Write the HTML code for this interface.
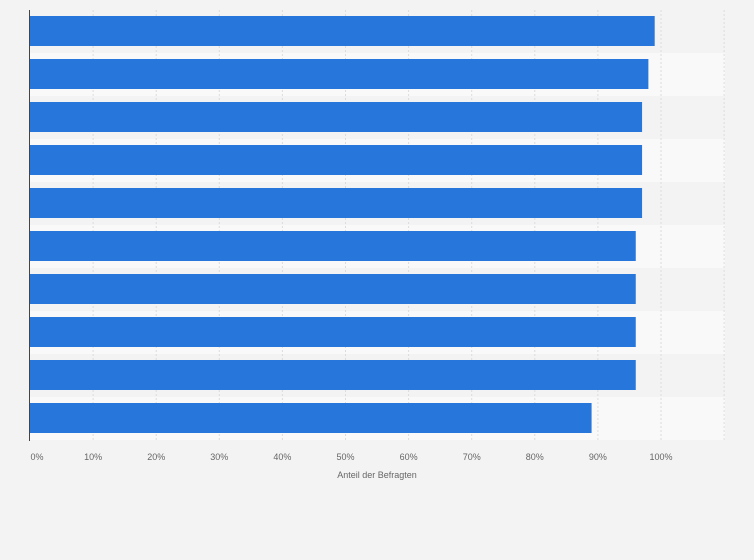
<!DOCTYPE html>
<html><head><meta charset="utf-8"><style>
body{margin:0;background:#f3f3f3;font-family:"Liberation Sans",sans-serif;}
svg{display:block}
</style></head><body>
<svg id="chart" width="754" height="560"></svg>
<script>
const categories=["c1","c2","c3","c4","c5","c6","c7","c8","c9","c10"];
const values=[99,98,97,97,97,96,96,96,96,89];
const ticks=[0,10,20,30,40,50,60,70,80,90,100];
const NS="http://www.w3.org/2000/svg";
const svg=document.getElementById('chart');
const x0=30,x100=661,plotTop=10,rowH=43,plotRight=725;
const xs=v=>x0+(x100-x0)*v/100;
function mk(t,a,p){const e=document.createElementNS(NS,t);for(const k in a)e.setAttribute(k,a[k]);(p||svg).appendChild(e);return e;}
categories.forEach((c,i)=>{
  const b=mk('rect',{x:x0,y:plotTop+i*rowH,width:plotRight-x0,height:rowH,fill:i%2?'#f9f9f9':'#f3f3f3'});
  
  
});
ticks.forEach(t=>{
  if(t>0){const g=mk('line',{x1:xs(t),x2:xs(t),y1:plotTop,y2:plotTop+rowH*categories.length,stroke:'#dcdcdc','stroke-dasharray':'2,2'});
  
  }
  const l=mk('text',{x:xs(t)+(t==0?7:0),y:460,'font-size':9,fill:'#666','text-anchor':'middle'});
  l.textContent=t+'%';
  
  
});
const g2=mk('line',{x1:xs(110),x2:xs(110),y1:plotTop,y2:plotTop+rowH*categories.length,stroke:'#dcdcdc','stroke-dasharray':'2,2'});


values.forEach((v,i)=>{
  const r=mk('rect',{x:x0,y:plotTop+i*rowH+6,width:xs(v)-x0,height:30,fill:'#2776db'});
  
  
});
const ax=mk('line',{x1:29.5,x2:29.5,y1:plotTop,y2:plotTop+rowH*categories.length+1,stroke:'#444','stroke-width':1});


const tt=mk('text',{x:377,y:478,'font-size':9,fill:'#666','text-anchor':'middle'});
tt.textContent='Anteil der Befragten';


</script>
</body></html>
